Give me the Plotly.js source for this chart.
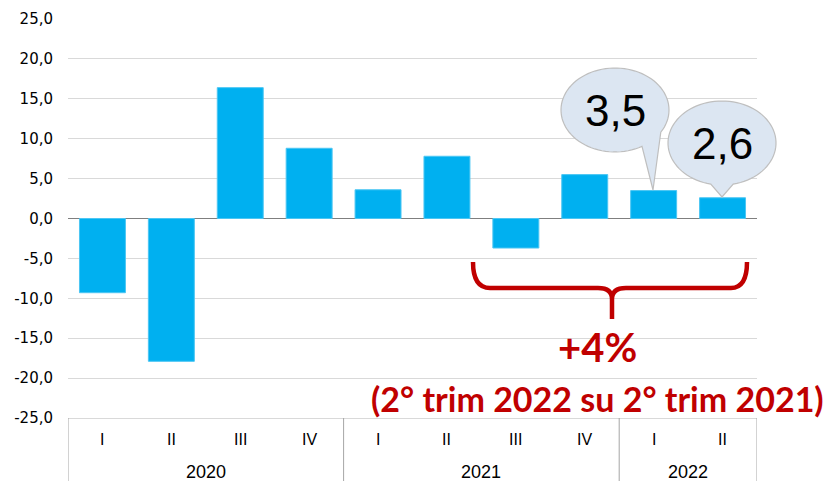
<!DOCTYPE html>
<html>
<head>
<meta charset="utf-8">
<script src="https://cdn.plot.ly/plotly-3.0.1.min.js"></script>
<style>html,body{margin:0;padding:0;background:#fff;}#chart{width:825px;height:481px;}</style>
</head>
<body>
<div id="chart"></div>
<script>
const years = ['2020','2020','2020','2020','2021','2021','2021','2021','2022','2022'];
const quarters = ['I','II','III','IV','I','II','III','IV','I','II'];
const values = [-9.3,-17.9,16.4,8.8,3.6,7.8,-3.7,5.5,3.5,2.6];
const yTickVals = [-25,-20,-15,-10,-5,0,5,10,15,20,25];
const growthLabel = '+4%';
const growthNote = '(2° trim 2022 su 2° trim 2021)';

const L = 68, R = 757, T = 19, B = 418;
const W = 825, H = 481;
const px = x => (x - L) / (R - L);
const py = y => (B - y) / (B - T);

const categories = years.map((y, i) => y + ' ' + quarters[i]);
const fmt = v => v.toFixed(1).replace('.', ',');

function bubblePath(cx, cy, rx, ry, a1, a2, tx, ty) {
  let pts = [];
  for (let a = a2; a <= a1 + 360; a += 4) {
    const t = a * Math.PI / 180;
    pts.push([cx + rx * Math.cos(t), cy + ry * Math.sin(t)]);
  }
  const te = (a1 + 360) * Math.PI / 180;
  pts.push([cx + rx * Math.cos(te), cy + ry * Math.sin(te)]);
  pts.push([tx, ty]);
  return 'M ' + pts.map(p => px(p[0]).toFixed(5) + ',' + py(p[1]).toFixed(5)).join(' L ') + ' Z';
}
function pathFrom(cmds) {
  return cmds.map(c => c[0] + ' ' + c.slice(1).map((v, i) => (i % 2 === 0 ? px(v) : py(v)).toFixed(5))
    .reduce((acc, v, i) => acc + (i === 0 ? '' : (i % 2 ? ',' : ' ')) + v, '')).join(' ');
}

const bubbleStyle = {type:'path', xref:'paper', yref:'paper', fillcolor:'#dce6f2', line:{color:'#bfbfbf', width:1.2}};
const bracePath = pathFrom([
  ['M', 473, 262],
  ['Q', 473, 288, 490, 288],
  ['L', 598, 288],
  ['Q', 612, 288, 612, 299],
  ['L', 612, 319],
  ['M', 612, 299],
  ['Q', 612, 288, 626, 288],
  ['L', 731, 288],
  ['Q', 747, 288, 747, 262]
]);

// two-level category axis (quarters + years) with group dividers
const axisAnn = [];
const axisShapes = [];
quarters.forEach((q, i) => {
  axisAnn.push({xref:'x', yref:'paper', x: categories[i], y: py(439), text: q, showarrow:false,
    xanchor:'center', yanchor:'middle', font:{size:16, color:'#000', family:'Liberation Sans, Arial, sans-serif'}});
});
const uniqYears = [...new Set(years)];
const divs = [-0.5];
uniqYears.forEach(yr => {
  const idx = years.map((y, i) => y === yr ? i : -1).filter(i => i >= 0);
  const mid = (idx[0] + idx[idx.length - 1]) / 2;
  axisAnn.push({xref:'x', yref:'paper', x: mid, y: py(472), text: yr, showarrow:false,
    xanchor:'center', yanchor:'middle', font:{size:18, color:'#000', family:'Liberation Sans, Arial, sans-serif'}});
  divs.push(idx[idx.length - 1] + 0.5);
});
divs.forEach(d => axisShapes.push({type:'line', xref:'x', yref:'paper', x0:d, x1:d, y0:0, y1:py(482),
  line:{color:'#a6a6a6', width:1}}));

const trace = {
  type: 'bar',
  x: categories,
  y: values,
  marker: {color: '#00b0f0', line: {color: '#4cc6f3', width: 1}},
  width: 0.667,
  hoverinfo: 'skip'
};

const layout = {
  width: W, height: H,
  margin: {l: L, r: W - R, t: T, b: H - B},
  paper_bgcolor: '#fff', plot_bgcolor: '#fff',
  showlegend: false,
  font: {family: 'Liberation Sans, Arial, sans-serif', color: '#000'},
  xaxis: {
    type: 'category',
    range: [-0.5, categories.length - 0.5],
    showgrid: false, zeroline: false,
    showline: true, linecolor: '#d9d9d9', linewidth: 1,
    ticks: '', showticklabels: false
  },
  yaxis: {
    range: [-25, 25],
    tickmode: 'array', tickvals: yTickVals, ticktext: yTickVals.map(fmt),
    showgrid: true, gridcolor: '#d9d9d9', gridwidth: 1,
    zeroline: true, zerolinecolor: '#7f7f7f', zerolinewidth: 1.5,
    showline: false, ticks: '',
    ticklabelstandoff: 14,
    tickfont: {size: 15, color: '#000', family: 'DejaVu Sans, sans-serif'}
  },
  shapes: [
    Object.assign({path: bubblePath(615, 110, 54, 42, 32, 60, 653, 190)}, bubbleStyle),
    Object.assign({path: bubblePath(722, 143, 54, 42, 78, 102, 722, 197)}, bubbleStyle),
    {type:'path', xref:'paper', yref:'paper', path: bracePath, line:{color:'#c00000', width:4.5}}
  ].concat(axisShapes),
  annotations: [
    {xref:'paper', yref:'paper', x: px(615), y: py(110), text: fmt(values[8]), showarrow:false,
     xanchor:'center', yanchor:'middle', font:{size:44, color:'#000', family:'Liberation Sans, Arial, sans-serif'}},
    {xref:'paper', yref:'paper', x: px(722), y: py(143), text: fmt(values[9]), showarrow:false,
     xanchor:'center', yanchor:'middle', font:{size:44, color:'#000', family:'Liberation Sans, Arial, sans-serif'}},
    {xref:'paper', yref:'paper', x: px(597), y: py(347), text: '<b>' + growthLabel + '</b>', showarrow:false,
     xanchor:'center', yanchor:'middle', font:{size:40, color:'#c00000', family:'Lato, Open Sans, sans-serif'}},
    {xref:'paper', yref:'paper', x: px(597), y: py(398), text: '<b>' + growthNote + '</b>', showarrow:false,
     xanchor:'center', yanchor:'middle', font:{size:34, color:'#c00000', family:'Lato, Open Sans, sans-serif'}}
  ].concat(axisAnn)
};

Plotly.newPlot('chart', [trace], layout, {displayModeBar: false, staticPlot: true});
</script>
</body>
</html>
